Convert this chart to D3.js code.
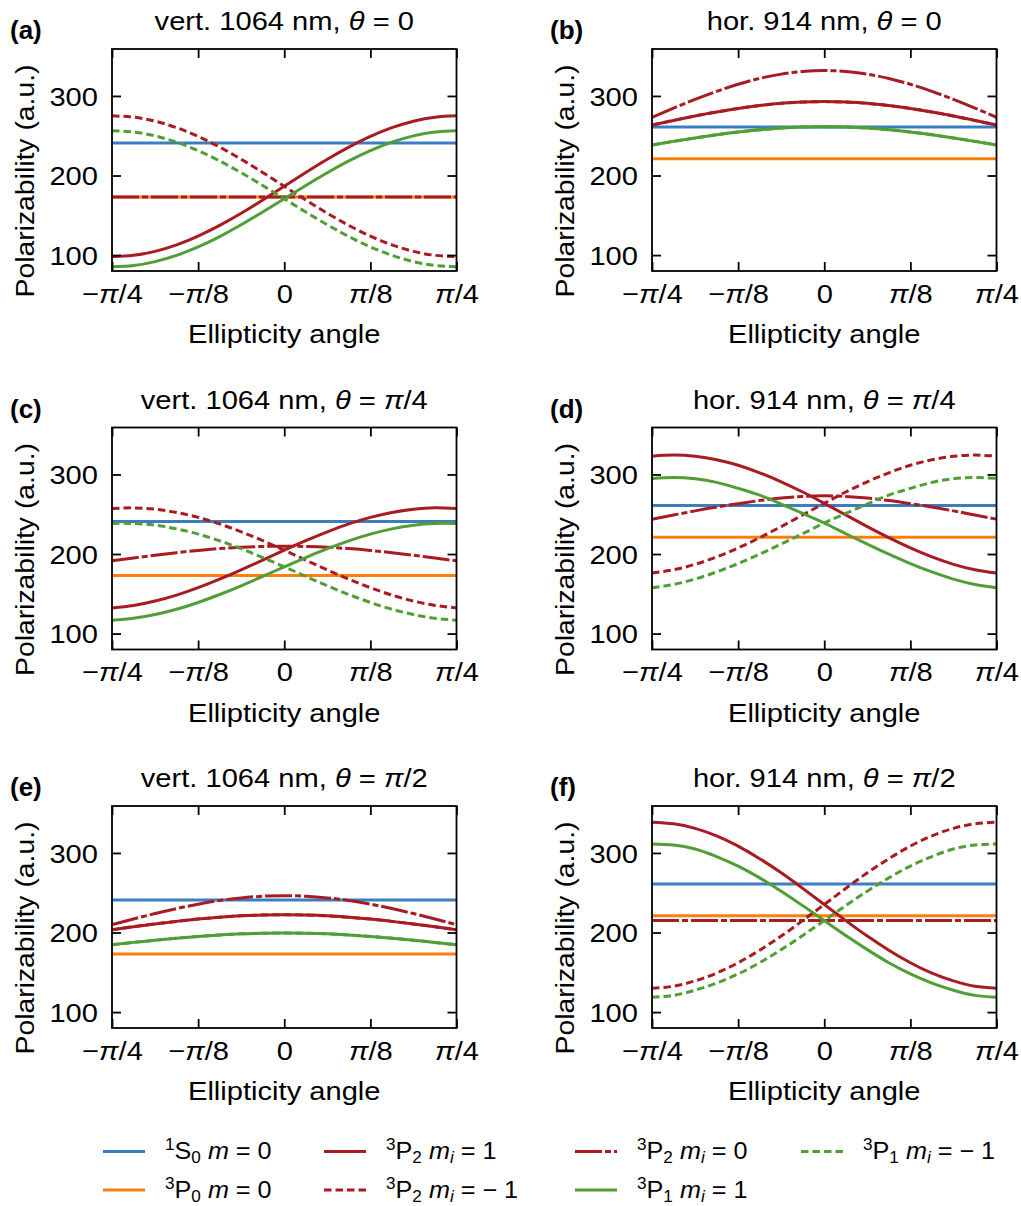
<!DOCTYPE html>
<html>
<head>
<meta charset="utf-8">
<script src="https://cdn.jsdelivr.net/npm/d3@7"></script>
<style>
  body { margin: 0; background: #fff; }
  svg text { font-family: "Liberation Sans", Arial, Helvetica, sans-serif; fill: #000; }
</style>
</head>
<body>
<div id="chart"></div>
<script>
const PI = Math.PI;

// sample positions of the ellipticity angle, -pi/4 .. pi/4 in steps of pi/32
const epsilon = [-8, -7, -6, -5, -4, -3, -2, -1, 0, 1, 2, 3, 4, 5, 6, 7, 8].map(k => k * PI / 32);

const xTickValues = [-PI/4, -PI/8, 0, PI/8, PI/4];
const xTickLabels = ["−π/4", "−π/8", "0", "π/8", "π/4"];
const yTickValues = [100, 200, 300];

const panelLetters = ["(a)", "(b)", "(c)", "(d)", "(e)", "(f)"];
const panelTitles = [
  "vert. 1064 nm, θ = 0", "hor. 914 nm, θ = 0",
  "vert. 1064 nm, θ = π/4", "hor. 914 nm, θ = π/4",
  "vert. 1064 nm, θ = π/2", "hor. 914 nm, θ = π/2"
];

// series order: 1S0 m=0, 3P0 m=0, 3P2 mi=1, 3P2 mi=-1, 3P2 mi=0, 3P1 mi=1, 3P1 mi=-1
const panelA = [
  [241, 241, 241, 241, 241, 241, 241, 241, 241, 241, 241, 241, 241, 241, 241, 241, 241],
  [173, 173, 173, 173, 173, 173, 173, 173, 173, 173, 173, 173, 173, 173, 173, 173, 173],
  [98.0, 99.7, 104.7, 112.9, 123.9, 137.3, 152.6, 169.2, 186.5, 203.8, 220.4, 235.7, 249.1, 260.1, 268.3, 273.3, 275.0],
  [275.0, 273.3, 268.3, 260.1, 249.1, 235.7, 220.4, 203.8, 186.5, 169.2, 152.6, 137.3, 123.9, 112.9, 104.7, 99.7, 98.0],
  [173, 173, 173, 173, 173, 173, 173, 173, 173, 173, 173, 173, 173, 173, 173, 173, 173],
  [85.3, 86.9, 91.8, 99.7, 110.3, 123.3, 138.1, 154.1, 170.8, 187.5, 203.5, 218.3, 231.3, 241.9, 249.8, 254.7, 256.3],
  [256.3, 254.7, 249.8, 241.9, 231.3, 218.3, 203.5, 187.5, 170.8, 154.1, 138.1, 123.3, 110.3, 99.7, 91.8, 86.9, 85.3]
];
const panelB = [
  [261, 261, 261, 261, 261, 261, 261, 261, 261, 261, 261, 261, 261, 261, 261, 261, 261],
  [221, 221, 221, 221, 221, 221, 221, 221, 221, 221, 221, 221, 221, 221, 221, 221, 221],
  [263.5, 269.2, 274.8, 279.8, 284.3, 287.9, 290.7, 292.3, 292.9, 292.3, 290.7, 287.9, 284.3, 279.8, 274.8, 269.2, 263.5],
  [263.5, 269.2, 274.8, 279.8, 284.3, 287.9, 290.7, 292.3, 292.9, 292.3, 290.7, 287.9, 284.3, 279.8, 274.8, 269.2, 263.5],
  [273.2, 284.7, 295.7, 305.8, 314.7, 322.0, 327.4, 330.8, 331.9, 330.8, 327.4, 322.0, 314.7, 305.8, 295.7, 284.7, 273.2],
  [238.4, 242.9, 247.2, 251.2, 254.7, 257.5, 259.6, 261.0, 261.4, 261.0, 259.6, 257.5, 254.7, 251.2, 247.2, 242.9, 238.4],
  [238.4, 242.9, 247.2, 251.2, 254.7, 257.5, 259.6, 261.0, 261.4, 261.0, 259.6, 257.5, 254.7, 251.2, 247.2, 242.9, 238.4]
];
const panelC = [
  [241, 241, 241, 241, 241, 241, 241, 241, 241, 241, 241, 241, 241, 241, 241, 241, 241],
  [173, 173, 173, 173, 173, 173, 173, 173, 173, 173, 173, 173, 173, 173, 173, 173, 173],
  [132.3, 135.4, 140.9, 148.4, 157.7, 168.4, 180.1, 192.4, 204.8, 216.8, 227.9, 237.8, 246.0, 252.2, 256.3, 258.0, 257.2],
  [257.2, 258.0, 256.3, 252.2, 246.0, 237.8, 227.9, 216.8, 204.8, 192.4, 180.1, 168.4, 157.7, 148.4, 140.9, 135.4, 132.3],
  [191.4, 195.0, 198.5, 201.7, 204.5, 206.8, 208.5, 209.5, 209.9, 209.5, 208.5, 206.8, 204.5, 201.7, 198.5, 195.0, 191.4],
  [116.8, 119.2, 123.9, 130.6, 139.1, 149.1, 160.1, 171.9, 183.9, 195.6, 206.7, 216.6, 225.0, 231.6, 236.2, 238.4, 238.4],
  [238.4, 238.4, 236.2, 231.6, 225.0, 216.6, 206.7, 195.6, 183.9, 171.9, 160.1, 149.1, 139.1, 130.6, 123.9, 119.2, 116.8]
];
const panelD = [
  [261, 261, 261, 261, 261, 261, 261, 261, 261, 261, 261, 261, 261, 261, 261, 261, 261],
  [221, 221, 221, 221, 221, 221, 221, 221, 221, 221, 221, 221, 221, 221, 221, 221, 221],
  [323.0, 324.3, 322.8, 318.5, 311.5, 302.1, 290.8, 277.9, 263.7, 249.1, 234.5, 220.5, 207.6, 196.3, 187.0, 180.2, 176.0],
  [176.0, 180.2, 187.0, 196.3, 207.6, 220.5, 234.5, 249.1, 263.7, 277.9, 290.8, 302.1, 311.5, 318.5, 322.8, 324.3, 323.0],
  [243.8, 249.0, 254.2, 259.0, 263.3, 267.2, 270.3, 272.4, 273.2, 272.4, 270.3, 267.2, 263.3, 259.0, 254.2, 249.0, 243.8],
  [295.0, 296.1, 294.6, 290.0, 282.5, 274.0, 262.8, 251.0, 239.0, 225.5, 212.5, 199.8, 188.0, 177.5, 168.5, 161.8, 157.7],
  [157.7, 161.8, 168.5, 177.5, 188.0, 199.8, 212.5, 225.5, 239.0, 251.0, 262.8, 274.0, 282.5, 290.0, 294.6, 296.1, 295.0]
];
const panelE = [
  [241, 241, 241, 241, 241, 241, 241, 241, 241, 241, 241, 241, 241, 241, 241, 241, 241],
  [173, 173, 173, 173, 173, 173, 173, 173, 173, 173, 173, 173, 173, 173, 173, 173, 173],
  [203.6, 207.3, 210.8, 214.0, 216.9, 219.2, 221.0, 222.0, 222.4, 222.0, 221.0, 219.2, 216.9, 214.0, 210.8, 207.3, 203.6],
  [203.6, 207.3, 210.8, 214.0, 216.9, 219.2, 221.0, 222.0, 222.4, 222.0, 221.0, 219.2, 216.9, 214.0, 210.8, 207.3, 203.6],
  [209.9, 217.0, 223.8, 230.1, 235.6, 240.2, 243.5, 245.6, 246.3, 245.6, 243.5, 240.2, 235.6, 230.1, 223.8, 217.0, 209.9],
  [184.7, 187.6, 190.3, 192.9, 195.1, 196.9, 198.3, 199.1, 199.4, 199.1, 198.3, 196.9, 195.1, 192.9, 190.3, 187.6, 184.7],
  [184.7, 187.6, 190.3, 192.9, 195.1, 196.9, 198.3, 199.1, 199.4, 199.1, 198.3, 196.9, 195.1, 192.9, 190.3, 187.6, 184.7]
];
const panelF = [
  [261, 261, 261, 261, 261, 261, 261, 261, 261, 261, 261, 261, 261, 261, 261, 261, 261],
  [221, 221, 221, 221, 221, 221, 221, 221, 221, 221, 221, 221, 221, 221, 221, 221, 221],
  [338.6, 336.6, 330.9, 321.5, 308.6, 292.8, 275.0, 255.5, 235.2, 215.0, 195.5, 177.8, 162.0, 149.0, 139.2, 132.5, 130.0],
  [130.0, 132.5, 139.2, 149.0, 162.0, 177.8, 195.5, 215.0, 235.2, 255.5, 275.0, 292.8, 308.6, 321.5, 330.9, 336.6, 338.6],
  [215, 215, 215, 215, 215, 215, 215, 215, 215, 215, 215, 215, 215, 215, 215, 215, 215],
  [311.3, 310.0, 305.0, 295.5, 283.5, 268.7, 252.0, 233.8, 215.0, 196.2, 178.5, 162.0, 148.0, 136.5, 127.5, 121.0, 118.6],
  [118.6, 121.0, 127.5, 136.5, 148.0, 162.0, 178.5, 196.2, 215.0, 233.8, 252.0, 268.7, 283.5, 295.5, 305.0, 310.0, 311.3]
];
const panelValues = [panelA, panelB, panelC, panelD, panelE, panelF];

// legend labels as [style, text] parts
const seriesLabels = [
  [["sup", "1"], ["n", "S"], ["sub", "0"], ["n", " "], ["i", "m"], ["n", " = 0"]],
  [["sup", "3"], ["n", "P"], ["sub", "0"], ["n", " "], ["i", "m"], ["n", " = 0"]],
  [["sup", "3"], ["n", "P"], ["sub", "2"], ["n", " "], ["i", "m"], ["isub", "i"], ["n", " = 1"]],
  [["sup", "3"], ["n", "P"], ["sub", "2"], ["n", " "], ["i", "m"], ["isub", "i"], ["n", " = − 1"]],
  [["sup", "3"], ["n", "P"], ["sub", "2"], ["n", " "], ["i", "m"], ["isub", "i"], ["n", " = 0"]],
  [["sup", "3"], ["n", "P"], ["sub", "1"], ["n", " "], ["i", "m"], ["isub", "i"], ["n", " = 1"]],
  [["sup", "3"], ["n", "P"], ["sub", "1"], ["n", " "], ["i", "m"], ["isub", "i"], ["n", " = − 1"]]
];
const seriesColors = ["#3a7ebf", "#ff7f0e", "#a91b22", "#a91b22", "#a91b22", "#509e36", "#509e36"];
const seriesDash = [null, null, null, "7.5,4", "27,3,6,3", null, "7.5,4"];

// layout
const W = 1021, H = 1206;
const colLeft = [112, 652];
const rowTop = [49, 427.5, 806];
const plotW = 344.5, plotH = 222;
const lineW = 3;
const sx = 1.12;   // the original face runs wider than Liberation Sans

const svg = d3.select("#chart").append("svg")
  .attr("width", W).attr("height", H)
  .attr("viewBox", `0 0 ${W} ${H}`);

// writes mixed normal / italic / sub / super parts into a text element
function richText(textSel, parts, size) {
  let shift = 0;
  parts.forEach(([kind, str]) => {
    let target = 0, fs = size, italic = false;
    if (kind === "sup") { target = -0.36 * size; fs = size * 0.68; }
    if (kind === "sub") { target = 0.17 * size; fs = size * 0.68; }
    if (kind === "isub") { target = 0.17 * size; fs = size * 0.68; italic = true; }
    if (kind === "i") italic = true;
    textSel.append("tspan")
      .attr("dy", target - shift)
      .attr("font-size", fs)
      .attr("font-style", italic ? "italic" : "normal")
      .text(str);
    shift = target;
  });
}

// splits a string so that θ and π come out in italics
function greekParts(str) {
  const parts = [];
  for (const ch of str) {
    const kind = (ch === "θ" || ch === "π") ? "i" : "n";
    if (parts.length && parts[parts.length - 1][0] === kind) parts[parts.length - 1][1] += ch;
    else parts.push([kind, ch]);
  }
  return parts;
}

panelValues.forEach((values, p) => {
  const left = colLeft[p % 2];
  const top = rowTop[Math.floor(p / 2)];

  const x = d3.scaleLinear().domain([-PI/4, PI/4]).range([0, plotW]);
  const y = d3.scaleLinear().domain([80, 359]).range([plotH, 0]);

  const g = svg.append("g").attr("transform", `translate(${left},${top})`);

  g.append("clipPath").attr("id", "clip" + p)
    .append("rect").attr("width", plotW).attr("height", plotH);

  const line = d3.line()
    .x((d, i) => x(epsilon[i]))
    .y(d => y(d))
    .curve(d3.curveNatural);

  const lines = g.append("g").attr("clip-path", `url(#clip${p})`);
  values.forEach((series, s) => {
    lines.append("path")
      .attr("d", line(series))
      .attr("fill", "none")
      .attr("stroke", seriesColors[s])
      .attr("stroke-width", lineW)
      .attr("stroke-dasharray", seriesDash[s])
      .attr("stroke-linecap", "butt");
  });

  // axes with inward ticks on all four sides
  const tick = 9;
  const xb = g.append("g").attr("transform", `translate(0,${plotH})`)
    .call(d3.axisBottom(x).tickValues(xTickValues).tickSizeInner(-tick).tickSizeOuter(0));
  const xt = g.append("g")
    .call(d3.axisTop(x).tickValues(xTickValues).tickSizeInner(-tick).tickSizeOuter(0).tickFormat(""));
  const yl = g.append("g")
    .call(d3.axisLeft(y).tickValues(yTickValues).tickSizeInner(-tick).tickSizeOuter(0));
  const yr = g.append("g").attr("transform", `translate(${plotW},0)`)
    .call(d3.axisRight(y).tickValues(yTickValues).tickSizeInner(-tick).tickSizeOuter(0).tickFormat(""));

  [xb, xt, yl, yr].forEach(a => {
    a.select(".domain").remove();
    a.selectAll(".tick line").attr("stroke", "#000").attr("stroke-width", 1.8);
  });

  yl.selectAll(".tick text")
    .attr("font-size", 26).attr("x", -14 / sx).attr("dy", "0.36em")
    .attr("transform", `scale(${sx},1)`);

  xb.selectAll(".tick text").each(function(d, i) {
    const t = d3.select(this).text(null)
      .attr("font-size", 26).attr("dy", null).attr("y", 32)
      .attr("transform", `scale(${sx},1)`);
    richText(t, greekParts(xTickLabels[i]), 26);
  });

  g.append("rect")
    .attr("width", plotW).attr("height", plotH)
    .attr("fill", "none").attr("stroke", "#000").attr("stroke-width", 1.8);

  // title
  const title = g.append("text")
    .attr("transform", `translate(${plotW / 2},-19) scale(${sx},1)`)
    .attr("text-anchor", "middle").attr("font-size", 26);
  richText(title, greekParts(panelTitles[p]), 26);

  // panel letter
  g.append("text")
    .attr("x", (p % 2 === 0 ? 10 : 550) - left).attr("y", -10)
    .attr("font-size", 26).attr("font-weight", "bold")
    .text(panelLetters[p]);

  // axis labels
  g.append("text")
    .attr("transform", `translate(${plotW / 2},${plotH + 72}) scale(${sx},1)`)
    .attr("text-anchor", "middle").attr("font-size", 26)
    .text("Ellipticity angle");

  g.append("text")
    .attr("transform", `translate(${(p % 2 === 0 ? 34 : 574) - left},132) rotate(-90) scale(1.09,1)`)
    .attr("text-anchor", "middle").attr("font-size", 26)
    .text("Polarizability (a.u.)");
});

// legend, filled column by column like matplotlib
const legendCols = [103, 324, 575, 801];
const legendRows = [1151.5, 1190];
const legend = svg.append("g");
seriesLabels.forEach((parts, s) => {
  const cx = legendCols[Math.floor(s / 2)];
  const cy = legendRows[s % 2];
  legend.append("line")
    .attr("x1", cx).attr("x2", cx + 42)
    .attr("y1", cy).attr("y2", cy)
    .attr("stroke", seriesColors[s])
    .attr("stroke-width", lineW)
    .attr("stroke-dasharray", seriesDash[s]);
  const t = legend.append("text")
    .attr("transform", `translate(${cx + 62},${cy + 7.5}) scale(1.05,1)`)
    .attr("font-size", 24);
  richText(t, parts, 24);
});
</script>
</body>
</html>
